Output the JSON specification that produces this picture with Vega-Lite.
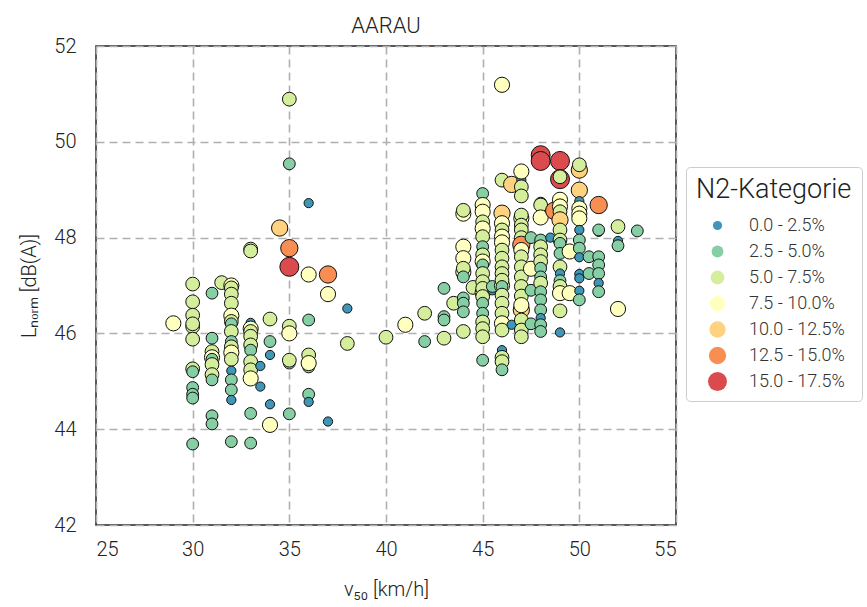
{
  "$schema": "https://vega.github.io/schema/vega-lite/v6.json",
  "autosize": {"type": "none"},
  "padding": {"left": 96, "top": 46, "right": 191, "bottom": 82},
  "width": 580,
  "height": 479,
  "background": "white",
  "title": {"text": "AARAU", "fontSize": 22, "font": "Roboto", "fontWeight": 300, "color": "#222", "offset": -2, "anchor": "middle"},
  "config": {
    "font": "Roboto",
    "view": {"stroke": "#222", "strokeWidth": 1.5},
    "axis": {
      "labelFont": "Roboto", "labelFontWeight": 300, "labelFontSize": 20, "labelColor": "#222",
      "titleFont": "Roboto", "titleFontWeight": 300, "titleFontSize": 20, "titleColor": "#222",
      "ticks": false, "domain": false,
      "gridColor": "#b0b0b0", "gridDash": [8, 5], "gridWidth": 1.6, "gridOpacity": 1
    },
    "legend": {
      "titleFont": "Roboto", "titleFontWeight": 300, "titleFontSize": 27, "titleColor": "#222",
      "labelFont": "Roboto", "labelFontWeight": 300, "labelFontSize": 18, "labelColor": "#333",
      "strokeColor": "#cccccc", "fillColor": "white", "cornerRadius": 4, "padding": 10
    }
  },
  "data": {"values": [
    {"v":29,"L":46.21,"k":"7.5 - 10.0%"},
    {"v":30,"L":47.03,"k":"5.0 - 7.5%"},{"v":30,"L":46.66,"k":"5.0 - 7.5%"},{"v":30,"L":46.38,"k":"5.0 - 7.5%"},{"v":30,"L":46.14,"k":"5.0 - 7.5%"},{"v":30,"L":46.2,"k":"5.0 - 7.5%"},{"v":30,"L":45.88,"k":"5.0 - 7.5%"},{"v":30,"L":45.26,"k":"5.0 - 7.5%"},{"v":30,"L":45.2,"k":"2.5 - 5.0%"},{"v":30,"L":44.87,"k":"2.5 - 5.0%"},{"v":30,"L":44.73,"k":"2.5 - 5.0%"},{"v":30,"L":44.65,"k":"2.5 - 5.0%"},{"v":30,"L":43.69,"k":"2.5 - 5.0%"},
    {"v":31,"L":46.84,"k":"2.5 - 5.0%"},{"v":31,"L":45.9,"k":"2.5 - 5.0%"},{"v":31,"L":45.62,"k":"5.0 - 7.5%"},{"v":31,"L":45.5,"k":"7.5 - 10.0%"},{"v":31,"L":45.46,"k":"2.5 - 5.0%"},{"v":31,"L":45.35,"k":"5.0 - 7.5%"},{"v":31,"L":45.14,"k":"5.0 - 7.5%"},{"v":31,"L":45.03,"k":"2.5 - 5.0%"},{"v":31,"L":44.28,"k":"2.5 - 5.0%"},{"v":31,"L":44.11,"k":"2.5 - 5.0%"},
    {"v":31.5,"L":47.06,"k":"5.0 - 7.5%"},
    {"v":32,"L":47.0,"k":"7.5 - 10.0%"},{"v":32,"L":46.95,"k":"5.0 - 7.5%"},{"v":32,"L":46.82,"k":"5.0 - 7.5%"},{"v":32,"L":46.63,"k":"5.0 - 7.5%"},{"v":32,"L":46.37,"k":"7.5 - 10.0%"},{"v":32,"L":46.25,"k":"5.0 - 7.5%"},{"v":32,"L":46.2,"k":"2.5 - 5.0%"},{"v":32,"L":46.04,"k":"5.0 - 7.5%"},{"v":32,"L":45.83,"k":"2.5 - 5.0%"},{"v":32,"L":45.72,"k":"5.0 - 7.5%"},{"v":32,"L":45.6,"k":"7.5 - 10.0%"},{"v":32,"L":45.46,"k":"5.0 - 7.5%"},{"v":32,"L":45.22,"k":"0.0 - 2.5%"},{"v":32,"L":45.03,"k":"2.5 - 5.0%"},{"v":32,"L":44.82,"k":"2.5 - 5.0%"},{"v":32,"L":44.61,"k":"0.0 - 2.5%"},{"v":32,"L":43.74,"k":"2.5 - 5.0%"},
    {"v":33,"L":47.76,"k":"5.0 - 7.5%"},{"v":33,"L":47.72,"k":"5.0 - 7.5%"},{"v":33,"L":46.22,"k":"0.0 - 2.5%"},{"v":33,"L":46.1,"k":"7.5 - 10.0%"},{"v":33,"L":46.04,"k":"5.0 - 7.5%"},{"v":33,"L":45.94,"k":"5.0 - 7.5%"},{"v":33,"L":45.76,"k":"5.0 - 7.5%"},{"v":33,"L":45.65,"k":"2.5 - 5.0%"},{"v":33,"L":45.41,"k":"5.0 - 7.5%"},{"v":33,"L":45.24,"k":"5.0 - 7.5%"},{"v":33,"L":45.06,"k":"7.5 - 10.0%"},{"v":33,"L":44.33,"k":"2.5 - 5.0%"},{"v":33,"L":43.71,"k":"2.5 - 5.0%"},
    {"v":33.5,"L":45.32,"k":"0.0 - 2.5%"},{"v":33.5,"L":44.89,"k":"0.0 - 2.5%"},
    {"v":34,"L":46.3,"k":"5.0 - 7.5%"},{"v":34,"L":45.83,"k":"2.5 - 5.0%"},{"v":34,"L":45.55,"k":"0.0 - 2.5%"},{"v":34,"L":44.52,"k":"0.0 - 2.5%"},{"v":34,"L":44.09,"k":"7.5 - 10.0%"},
    {"v":34.5,"L":48.2,"k":"10.0 - 12.5%"},
    {"v":35,"L":50.89,"k":"5.0 - 7.5%"},{"v":35,"L":49.54,"k":"2.5 - 5.0%"},{"v":35,"L":47.78,"k":"12.5 - 15.0%"},{"v":35,"L":47.39,"k":"15.0 - 17.5%"},{"v":35,"L":46.15,"k":"5.0 - 7.5%"},{"v":35,"L":46.0,"k":"7.5 - 10.0%"},{"v":35,"L":45.38,"k":"2.5 - 5.0%"},{"v":35,"L":45.44,"k":"5.0 - 7.5%"},{"v":35,"L":44.32,"k":"2.5 - 5.0%"},
    {"v":36,"L":48.72,"k":"0.0 - 2.5%"},{"v":36,"L":47.23,"k":"7.5 - 10.0%"},{"v":36,"L":46.28,"k":"2.5 - 5.0%"},{"v":36,"L":45.55,"k":"5.0 - 7.5%"},{"v":36,"L":45.3,"k":"2.5 - 5.0%"},{"v":36,"L":45.38,"k":"7.5 - 10.0%"},{"v":36,"L":44.73,"k":"2.5 - 5.0%"},{"v":36,"L":44.57,"k":"0.0 - 2.5%"},
    {"v":37,"L":47.23,"k":"12.5 - 15.0%"},{"v":37,"L":46.82,"k":"7.5 - 10.0%"},{"v":37,"L":44.16,"k":"0.0 - 2.5%"},
    {"v":38,"L":46.52,"k":"0.0 - 2.5%"},{"v":38,"L":45.79,"k":"5.0 - 7.5%"},
    {"v":40,"L":45.92,"k":"5.0 - 7.5%"},
    {"v":41,"L":46.18,"k":"7.5 - 10.0%"},
    {"v":42,"L":46.42,"k":"5.0 - 7.5%"},{"v":42,"L":45.83,"k":"2.5 - 5.0%"},
    {"v":43,"L":46.94,"k":"2.5 - 5.0%"},{"v":43,"L":46.35,"k":"2.5 - 5.0%"},{"v":43,"L":46.28,"k":"2.5 - 5.0%"},{"v":43,"L":45.9,"k":"5.0 - 7.5%"},
    {"v":43.5,"L":46.63,"k":"5.0 - 7.5%"},
    {"v":44,"L":48.5,"k":"7.5 - 10.0%"},{"v":44,"L":48.57,"k":"5.0 - 7.5%"},{"v":44,"L":47.81,"k":"7.5 - 10.0%"},{"v":44,"L":47.57,"k":"7.5 - 10.0%"},{"v":44,"L":47.28,"k":"7.5 - 10.0%"},{"v":44,"L":47.36,"k":"5.0 - 7.5%"},{"v":44,"L":47.18,"k":"2.5 - 5.0%"},{"v":44,"L":46.74,"k":"2.5 - 5.0%"},{"v":44,"L":46.63,"k":"2.5 - 5.0%"},{"v":44,"L":46.45,"k":"2.5 - 5.0%"},{"v":44,"L":46.04,"k":"5.0 - 7.5%"},
    {"v":44.5,"L":46.96,"k":"5.0 - 7.5%"},
    {"v":45,"L":48.92,"k":"2.5 - 5.0%"},{"v":45,"L":48.68,"k":"7.5 - 10.0%"},{"v":45,"L":48.54,"k":"7.5 - 10.0%"},{"v":45,"L":48.33,"k":"5.0 - 7.5%"},{"v":45,"L":48.19,"k":"7.5 - 10.0%"},{"v":45,"L":48.02,"k":"5.0 - 7.5%"},{"v":45,"L":47.81,"k":"2.5 - 5.0%"},{"v":45,"L":47.64,"k":"5.0 - 7.5%"},{"v":45,"L":47.5,"k":"7.5 - 10.0%"},{"v":45,"L":47.43,"k":"2.5 - 5.0%"},{"v":45,"L":47.25,"k":"5.0 - 7.5%"},{"v":45,"L":47.08,"k":"5.0 - 7.5%"},{"v":45,"L":46.85,"k":"7.5 - 10.0%"},{"v":45,"L":46.94,"k":"5.0 - 7.5%"},{"v":45,"L":46.77,"k":"5.0 - 7.5%"},{"v":45,"L":46.63,"k":"2.5 - 5.0%"},{"v":45,"L":46.42,"k":"2.5 - 5.0%"},{"v":45,"L":46.24,"k":"5.0 - 7.5%"},{"v":45,"L":46.1,"k":"5.0 - 7.5%"},{"v":45,"L":45.93,"k":"5.0 - 7.5%"},{"v":45,"L":45.44,"k":"2.5 - 5.0%"},
    {"v":45.5,"L":46.9,"k":"0.0 - 2.5%"},{"v":45.5,"L":46.98,"k":"2.5 - 5.0%"},
    {"v":46,"L":51.19,"k":"7.5 - 10.0%"},{"v":46,"L":49.2,"k":"5.0 - 7.5%"},{"v":46,"L":48.51,"k":"10.0 - 12.5%"},{"v":46,"L":48.3,"k":"7.5 - 10.0%"},{"v":46,"L":48.16,"k":"5.0 - 7.5%"},{"v":46,"L":48.02,"k":"7.5 - 10.0%"},{"v":46,"L":47.9,"k":"7.5 - 10.0%"},{"v":46,"L":47.74,"k":"5.0 - 7.5%"},{"v":46,"L":47.57,"k":"5.0 - 7.5%"},{"v":46,"L":47.39,"k":"5.0 - 7.5%"},{"v":46,"L":47.25,"k":"5.0 - 7.5%"},{"v":46,"L":47.0,"k":"7.5 - 10.0%"},{"v":46,"L":47.11,"k":"5.0 - 7.5%"},{"v":46,"L":46.98,"k":"2.5 - 5.0%"},{"v":46,"L":46.8,"k":"5.0 - 7.5%"},{"v":46,"L":46.63,"k":"5.0 - 7.5%"},{"v":46,"L":46.42,"k":"5.0 - 7.5%"},{"v":46,"L":46.21,"k":"7.5 - 10.0%"},{"v":46,"L":46.07,"k":"5.0 - 7.5%"},{"v":46,"L":45.65,"k":"0.0 - 2.5%"},{"v":46,"L":45.5,"k":"5.0 - 7.5%"},{"v":46,"L":45.41,"k":"5.0 - 7.5%"},{"v":46,"L":45.24,"k":"2.5 - 5.0%"},
    {"v":46.5,"L":49.11,"k":"10.0 - 12.5%"},{"v":46.5,"L":46.18,"k":"0.0 - 2.5%"},
    {"v":47,"L":49.2,"k":"0.0 - 2.5%"},{"v":47,"L":49.38,"k":"7.5 - 10.0%"},{"v":47,"L":49.06,"k":"5.0 - 7.5%"},{"v":47,"L":48.87,"k":"5.0 - 7.5%"},{"v":47,"L":48.4,"k":"7.5 - 10.0%"},{"v":47,"L":48.47,"k":"5.0 - 7.5%"},{"v":47,"L":48.26,"k":"5.0 - 7.5%"},{"v":47,"L":48.16,"k":"5.0 - 7.5%"},{"v":47,"L":48.0,"k":"5.0 - 7.5%"},{"v":47,"L":47.85,"k":"12.5 - 15.0%"},{"v":47,"L":47.74,"k":"7.5 - 10.0%"},{"v":47,"L":47.6,"k":"5.0 - 7.5%"},{"v":47,"L":47.39,"k":"5.0 - 7.5%"},{"v":47,"L":47.18,"k":"5.0 - 7.5%"},{"v":47,"L":46.98,"k":"5.0 - 7.5%"},{"v":47,"L":46.78,"k":"5.0 - 7.5%"},{"v":47,"L":46.49,"k":"10.0 - 12.5%"},{"v":47,"L":46.59,"k":"7.5 - 10.0%"},{"v":47,"L":46.28,"k":"5.0 - 7.5%"},{"v":47,"L":46.07,"k":"5.0 - 7.5%"},{"v":47,"L":45.93,"k":"5.0 - 7.5%"},
    {"v":47.5,"L":48.0,"k":"2.5 - 5.0%"},{"v":47.5,"L":47.35,"k":"7.5 - 10.0%"},{"v":47.5,"L":46.9,"k":"2.5 - 5.0%"},{"v":47.5,"L":46.2,"k":"2.5 - 5.0%"},
    {"v":48,"L":49.72,"k":"15.0 - 17.5%"},{"v":48,"L":49.6,"k":"15.0 - 17.5%"},{"v":48,"L":48.72,"k":"2.5 - 5.0%"},{"v":48,"L":48.68,"k":"5.0 - 7.5%"},{"v":48,"L":48.42,"k":"7.5 - 10.0%"},{"v":48,"L":47.95,"k":"2.5 - 5.0%"},{"v":48,"L":47.81,"k":"5.0 - 7.5%"},{"v":48,"L":47.64,"k":"5.0 - 7.5%"},{"v":48,"L":47.5,"k":"5.0 - 7.5%"},{"v":48,"L":47.36,"k":"2.5 - 5.0%"},{"v":48,"L":47.18,"k":"2.5 - 5.0%"},{"v":48,"L":47.05,"k":"5.0 - 7.5%"},{"v":48,"L":46.87,"k":"2.5 - 5.0%"},{"v":48,"L":46.7,"k":"2.5 - 5.0%"},{"v":48,"L":46.49,"k":"2.5 - 5.0%"},{"v":48,"L":46.32,"k":"0.0 - 2.5%"},{"v":48,"L":46.18,"k":"2.5 - 5.0%"},{"v":48,"L":46.04,"k":"2.5 - 5.0%"},
    {"v":48.5,"L":48.0,"k":"0.0 - 2.5%"},
    {"v":48.7,"L":48.56,"k":"12.5 - 15.0%"},
    {"v":49,"L":49.6,"k":"15.0 - 17.5%"},{"v":49,"L":49.22,"k":"15.0 - 17.5%"},{"v":49,"L":49.27,"k":"5.0 - 7.5%"},{"v":49,"L":48.79,"k":"7.5 - 10.0%"},{"v":49,"L":48.65,"k":"7.5 - 10.0%"},{"v":49,"L":48.54,"k":"5.0 - 7.5%"},{"v":49,"L":48.37,"k":"10.0 - 12.5%"},{"v":49,"L":48.16,"k":"5.0 - 7.5%"},{"v":49,"L":47.95,"k":"5.0 - 7.5%"},{"v":49,"L":47.88,"k":"2.5 - 5.0%"},{"v":49,"L":47.67,"k":"2.5 - 5.0%"},{"v":49,"L":47.39,"k":"5.0 - 7.5%"},{"v":49,"L":47.25,"k":"0.0 - 2.5%"},{"v":49,"L":47.1,"k":"2.5 - 5.0%"},{"v":49,"L":46.98,"k":"5.0 - 7.5%"},{"v":49,"L":46.84,"k":"7.5 - 10.0%"},{"v":49,"L":46.47,"k":"5.0 - 7.5%"},{"v":49,"L":46.02,"k":"0.0 - 2.5%"},
    {"v":49.5,"L":47.71,"k":"7.5 - 10.0%"},{"v":49.5,"L":46.84,"k":"7.5 - 10.0%"},
    {"v":50,"L":49.41,"k":"10.0 - 12.5%"},{"v":50,"L":49.52,"k":"5.0 - 7.5%"},{"v":50,"L":48.99,"k":"10.0 - 12.5%"},{"v":50,"L":48.76,"k":"0.0 - 2.5%"},{"v":50,"L":48.61,"k":"7.5 - 10.0%"},{"v":50,"L":48.5,"k":"7.5 - 10.0%"},{"v":50,"L":48.4,"k":"7.5 - 10.0%"},{"v":50,"L":48.16,"k":"0.0 - 2.5%"},{"v":50,"L":47.95,"k":"2.5 - 5.0%"},{"v":50,"L":47.78,"k":"2.5 - 5.0%"},{"v":50,"L":47.59,"k":"0.0 - 2.5%"},{"v":50,"L":47.24,"k":"0.0 - 2.5%"},{"v":50,"L":47.15,"k":"0.0 - 2.5%"},{"v":50,"L":46.89,"k":"0.0 - 2.5%"},{"v":50,"L":46.7,"k":"2.5 - 5.0%"},
    {"v":50.5,"L":47.6,"k":"2.5 - 5.0%"},{"v":50.5,"L":47.25,"k":"2.5 - 5.0%"},
    {"v":51,"L":48.68,"k":"12.5 - 15.0%"},{"v":51,"L":48.12,"k":"0.0 - 2.5%"},{"v":51,"L":48.16,"k":"2.5 - 5.0%"},{"v":51,"L":47.6,"k":"2.5 - 5.0%"},{"v":51,"L":47.43,"k":"2.5 - 5.0%"},{"v":51,"L":47.25,"k":"2.5 - 5.0%"},{"v":51,"L":47.05,"k":"0.0 - 2.5%"},{"v":51,"L":46.87,"k":"2.5 - 5.0%"},
    {"v":52,"L":48.23,"k":"5.0 - 7.5%"},{"v":52,"L":47.93,"k":"0.0 - 2.5%"},{"v":52,"L":47.83,"k":"2.5 - 5.0%"},{"v":52,"L":46.51,"k":"7.5 - 10.0%"},
    {"v":53,"L":48.14,"k":"2.5 - 5.0%"}
  ]},
  "mark": {"type": "circle", "opacity": 1, "stroke": "#111", "strokeWidth": 1},
  "encoding": {
    "x": {"field": "v", "type": "quantitative", "scale": {"domain": [25, 55], "nice": false, "zero": false},
      "axis": {"values": [25, 30, 35, 40, 45, 50, 55], "title": "v₅₀ [km/h]", "labelPadding": 14, "titlePadding": 20, "grid": true}},
    "y": {"field": "L", "type": "quantitative", "scale": {"domain": [42, 52], "nice": false, "zero": false},
      "axis": {"values": [42, 44, 46, 48, 50, 52], "title": "Lₙₒᵣₘ [dB(A)]", "labelPadding": 20, "titlePadding": 14, "grid": true}},
    "color": {"field": "k", "type": "nominal", "title": "N2-Kategorie",
      "scale": {"domain": ["0.0 - 2.5%", "2.5 - 5.0%", "5.0 - 7.5%", "7.5 - 10.0%", "10.0 - 12.5%", "12.5 - 15.0%", "15.0 - 17.5%"],
        "range": ["#3f97b7", "#86cfa5", "#d5ee9b", "#ffffbe", "#fed27f", "#f98e52", "#db4a4c"]},
      "legend": {"orient": "none", "legendX": 590, "legendY": 121, "symbolStrokeWidth": 0, "symbolOffset": 12, "labelOffset": 22, "rowPadding": 7, "clipHeight": 19, "titlePadding": 12, "symbolOpacity": 1}},
    "size": {"field": "k", "type": "nominal", "title": "N2-Kategorie",
      "scale": {"type": "ordinal", "domain": ["0.0 - 2.5%", "2.5 - 5.0%", "5.0 - 7.5%", "7.5 - 10.0%", "10.0 - 12.5%", "12.5 - 15.0%", "15.0 - 17.5%"],
        "range": [85, 140, 190, 230, 265, 300, 360]},
      "legend": {"orient": "none", "legendX": 590, "legendY": 121, "symbolStrokeWidth": 0, "symbolOffset": 12, "labelOffset": 22, "rowPadding": 7, "clipHeight": 19, "titlePadding": 12, "symbolOpacity": 1}}
  }
}
